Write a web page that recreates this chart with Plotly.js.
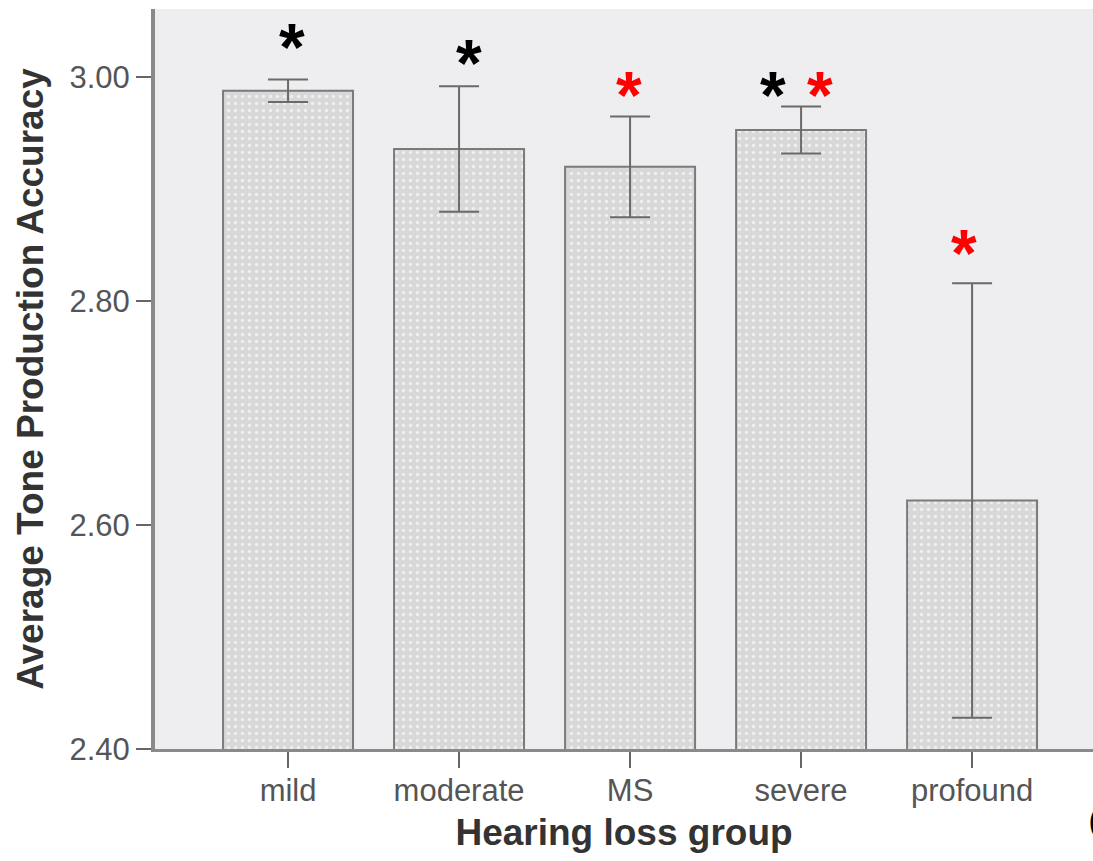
<!DOCTYPE html>
<html>
<head>
<meta charset="utf-8">
<script src="https://cdn.plot.ly/plotly-3.0.1.min.js"></script>
<style>html,body{margin:0;padding:0;background:#fff;overflow:hidden;}#chart{width:1093px;height:861px;}</style>
</head>
<body>
<div id="chart"></div>
<script>
// Data
const categories = ["mild", "moderate", "MS", "severe", "profound"];
const means = [2.988, 2.936, 2.920, 2.953, 2.622];
const errors = [0.010, 0.056, 0.045, 0.021, 0.194];
const yTickValues = [2.40, 2.60, 2.80, 3.00];
const yTickLabels = ["2.40", "2.60", "2.80", "3.00"];
// significance markers: category index, colour, horizontal pixel offset, pixel gap above error bar
const starCategory = [0, 1, 2, 3, 3, 4];
const starColor = ["#000000", "#000000", "#ff0000", "#000000", "#ff0000", "#ff0000"];
const starDx = [4, 10, -1, -28, 19, -8];
const starGap = [42, 32, 30, 20, 20, 39];
const panelLabel = "(a)";

const trace = {
  type: "bar",
  x: categories.map((c, i) => i),
  y: means,
  base: 0,
  width: 0.76,
  marker: {
    color: "#dadada",
    line: {color: "#7a7a7a", width: 2},
    pattern: {shape: ".", fgcolor: "#efefef", bgcolor: "#d8d8d8", size: 7, solidity: 0.2}
  },
  error_y: {type: "data", array: errors, visible: true, color: "#6a6a6a", thickness: 2, width: 20},
  hoverinfo: "skip"
};

const annotations = starCategory.map((ci, k) => ({
  x: ci, y: means[ci] + errors[ci], xref: "x", yref: "y",
  text: "*", showarrow: false,
  xanchor: "center", yanchor: "bottom",
  xshift: starDx[k], yshift: starGap[k] - 48,
  font: {family: "Liberation Sans, Arial, sans-serif", size: 66, color: starColor[k], weight: "bold"}
}));
annotations.push({
  x: 1, y: -0.097, xref: "paper", yref: "paper", text: panelLabel, showarrow: false,
  xanchor: "left", yanchor: "middle", xshift: -6,
  font: {family: "Liberation Sans, Arial, sans-serif", size: 30, color: "#000000", weight: "bold"}
});

const layout = {
  width: 1093, height: 861,
  margin: {l: 155, r: 0, t: 9, b: 112, pad: 0},
  paper_bgcolor: "#ffffff",
  plot_bgcolor: "#eeeef0",
  showlegend: false,
  font: {family: "Liberation Sans, Arial, sans-serif", color: "#555555"},
  xaxis: {
    range: [-0.778, 4.707],
    tickvals: categories.map((c, i) => i),
    ticktext: categories,
    ticks: "outside", ticklen: 16, tickwidth: 2, tickcolor: "#666666",
    ticklabelstandoff: -4,
    tickfont: {size: 31, color: "#555555"},
    showline: true, linecolor: "#8a8a8a", linewidth: 3,
    showgrid: false, zeroline: false,
    title: {text: "Hearing loss group", font: {size: 37, color: "#333333", weight: "bold"}, standoff: 12}
  },
  yaxis: {
    range: [2.40, 3.061],
    tickvals: yTickValues,
    ticktext: yTickLabels,
    ticks: "outside", ticklen: 15, tickwidth: 2, tickcolor: "#666666",
    tickfont: {size: 31, color: "#555555"},
    showline: true, linecolor: "#8a8a8a", linewidth: 4,
    showgrid: false, zeroline: false,
    title: {text: "Average Tone Production Accuracy", font: {size: 37, color: "#333333", weight: "bold"}, standoff: 16}
  },
  annotations: annotations
};

Plotly.newPlot("chart", [trace], layout, {displayModeBar: false, staticPlot: true});
</script>
</body>
</html>
